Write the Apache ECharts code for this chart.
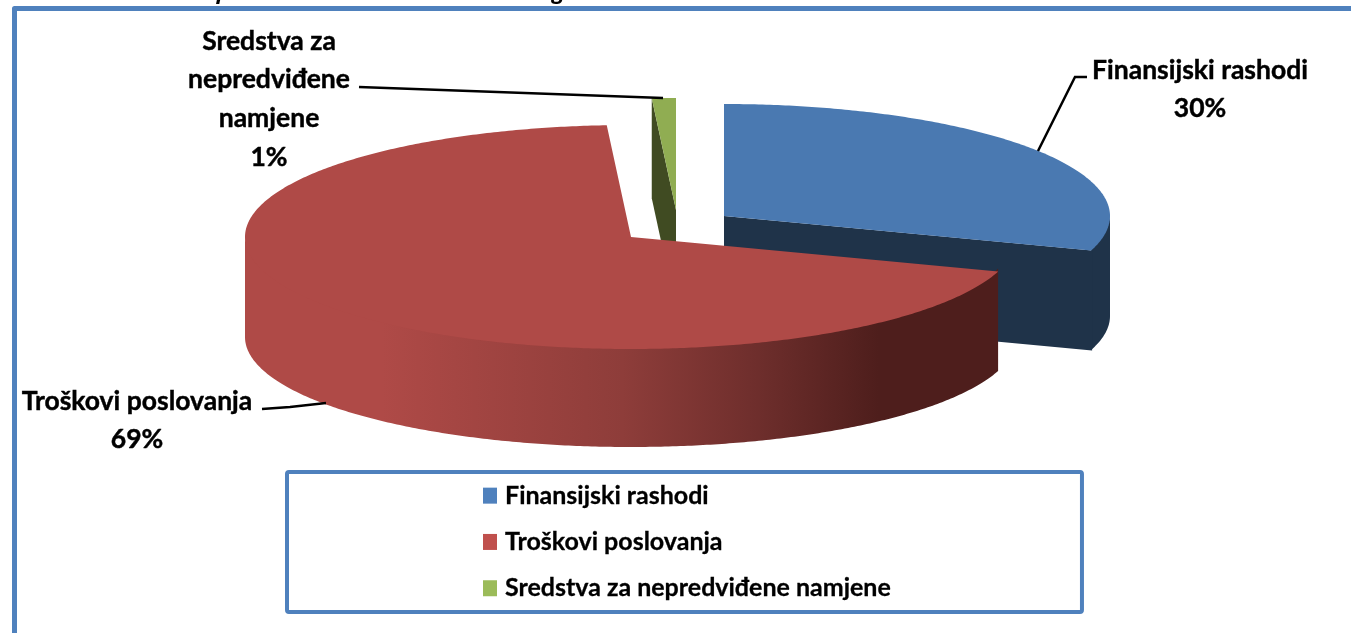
<!DOCTYPE html>
<html><head><meta charset="utf-8">
<style>html,body{margin:0;padding:0;background:#fff}#c{width:1351px;height:633px}</style>
<script src="https://cdn.jsdelivr.net/npm/echarts@6/dist/echarts.min.js"></script>
</head><body><div id="c"></div>
<script>
const categories = ['Finansijski rashodi', 'Troškovi poslovanja', 'Sredstva za nepredviđene namjene'];
const labelLines = [['Finansijski rashodi'], ['Troškovi poslovanja'], ['Sredstva za', 'nepredviđene', 'namjene']];
const values = [30, 69, 1];
const topColors = ['#4A79B1', '#AF4A47', '#90AD52'];
const sideColors = ['#1F3349', '#AF4A47', '#404B22'];
const legendColors = ['#4F81BD', '#C0504D', '#9BBB59'];

const RX = 386, RY = 112, RY_BOTTOM = 110, DEPTH = 100;
const apex = [[724, 216], [631, 237], [676, 210]];
const labelCenter = [[1200, 70], [137, 401], [269, 41]];
const leaders = [
  [[1038, 151], [1075, 77], [1087, 77]],
  [[326, 403], [290, 407], [262, 409]],
  [[663, 98], [359, 87]]
];
const LH = 38.7;
const font = 'Lato';
const total = values.reduce((a, b) => a + b, 0);

function angleRange(idx) {
  let before = 0;
  for (let i = 0; i < idx; i++) before += values[i];
  const a0 = Math.PI / 2 - before / total * 2 * Math.PI;
  return [a0, a0 - values[idx] / total * 2 * Math.PI];
}
function pt(c, a, dz, ry) { return [c[0] + RX * Math.cos(a), c[1] - (ry || RY) * Math.sin(a) + (dz || 0)]; }
function arc(c, a0, a1, dz, ry) {
  const n = Math.max(2, Math.ceil(Math.abs(a1 - a0) / 0.01)), out = [];
  for (let i = 0; i <= n; i++) out.push(pt(c, a0 + (a1 - a0) * i / n, dz, ry));
  return out;
}
function poly(points, fill) {
  return { type: 'polygon', shape: { points }, style: { fill }, silent: true };
}
function rim(idx, c, a0, a1) {
  // visible outer wall: the part of the arc in the lower half of the ellipse
  const lo = Math.max(Math.min(a0, a1), -Math.PI), hi = Math.min(Math.max(a0, a1), 0);
  if (hi <= lo) return null;
  // the upper edge is tucked 3px under the top face so no seam shows
  const top = arc(c, hi, lo, -3), bottom = arc(c, lo, hi, DEPTH, RY_BOTTOM);
  const fill = idx === 1 ? {
    type: 'linear', global: true, x: 246, y: 0, x2: 999, y2: 0,
    colorStops: [
      { offset: 0, color: '#AF4A47' }, { offset: 0.18, color: '#AF4A47' },
      { offset: 0.5, color: '#8E3D3A' }, { offset: 0.68, color: '#6E2E2C' },
      { offset: 0.84, color: '#4E1E1C' }, { offset: 1, color: '#4E1E1C' }
    ]
  } : sideColors[idx];
  return poly(top.concat(bottom), fill);
}
function renderSlice(idx) {
  return function () {
    const c = apex[idx], [a0, a1] = angleRange(idx), children = [];
    if (idx === 2) { // start cut face of the small slice
      const p = pt(c, a0);
      children.push(poly([p, c, [c[0], c[1] + DEPTH], [p[0], p[1] + DEPTH]], sideColors[2]));
    }
    const r = rim(idx, c, a0, a1);
    if (r) children.push(r);
    if (idx === 0) { // end cut face of the blue slice, overlapping the wall by a pixel
      const p = pt(c, a1);
      children.push(poly([c, [p[0] + 1, p[1]], [p[0] + 1, p[1] + DEPTH], [c[0], c[1] + DEPTH]], sideColors[0]));
    }
    children.push(poly([c].concat(arc(c, a0, a1, 0)), topColors[idx]));
    return { type: 'group', children };
  };
}
function renderLabel(idx) {
  const pts = leaders[idx], children = [];
  children.push({ type: 'polyline', shape: { points: pts }, silent: true,
    style: { stroke: '#000', lineWidth: 2.5, fill: null } });
  const lines = labelLines[idx].concat([values[idx] + '%']);
  lines.forEach((t, i) => children.push({
    type: 'text', x: labelCenter[idx][0], y: labelCenter[idx][1] + i * LH, silent: true,
    scaleX: 1.06, scaleY: 1.08,
    style: { text: t, fill: '#000', align: 'center', verticalAlign: 'middle',
      font: 'bold 25px ' + font, stroke: '#000', lineWidth: 0.4 }
  }));
  return { type: 'group', children };
}

const drawOrder = [2, 0, 1];
const series = drawOrder.map(idx => ({
  type: 'custom', name: categories[idx], coordinateSystem: 'none',
  data: [values[idx]], renderItem: renderSlice(idx), silent: true, animation: false, z: 2,
  itemStyle: { color: legendColors[idx] }
}));
series.push({
  type: 'custom', name: 'labels', coordinateSystem: 'none', data: values,
  renderItem: (p) => renderLabel(p.dataIndex), silent: true, animation: false, z: 3
});

const chart = echarts.init(document.getElementById('c'), null, { renderer: 'canvas' });
chart.setOption({
  backgroundColor: '#fff',
  animation: false,
  title: {
    text: 'Struktura rashoda po osnovnim stavkama budžeta grada', left: 15, top: -23,
    textStyle: { fontFamily: 'Open Sans', fontStyle: 'italic', fontWeight: 'bold', fontSize: 22, color: '#000' }
  },
  legend: {
    data: categories, orient: 'vertical', left: 287, top: 472,
    padding: [11, 191, 11, 196], itemGap: 21, itemWidth: 14, itemHeight: 16,
    icon: 'rect', selectedMode: false, align: 'left',
    borderColor: '#4F81BD', borderWidth: 4, borderRadius: 2,
    textStyle: { fontFamily: font, fontWeight: 'bold', fontSize: 25, color: '#000', padding: [0, 0, 0, 3],
      textBorderColor: '#000', textBorderWidth: 0.3 }
  },
  graphic: [{ type: 'polyline', silent: true, z: 0,
    shape: { points: [[14.5, 633], [14.5, 8.5], [1351, 8.5]] },
    style: { stroke: '#4F81BD', lineWidth: 5, fill: null, lineJoin: 'round' } }],
  series
});
</script></body></html>
